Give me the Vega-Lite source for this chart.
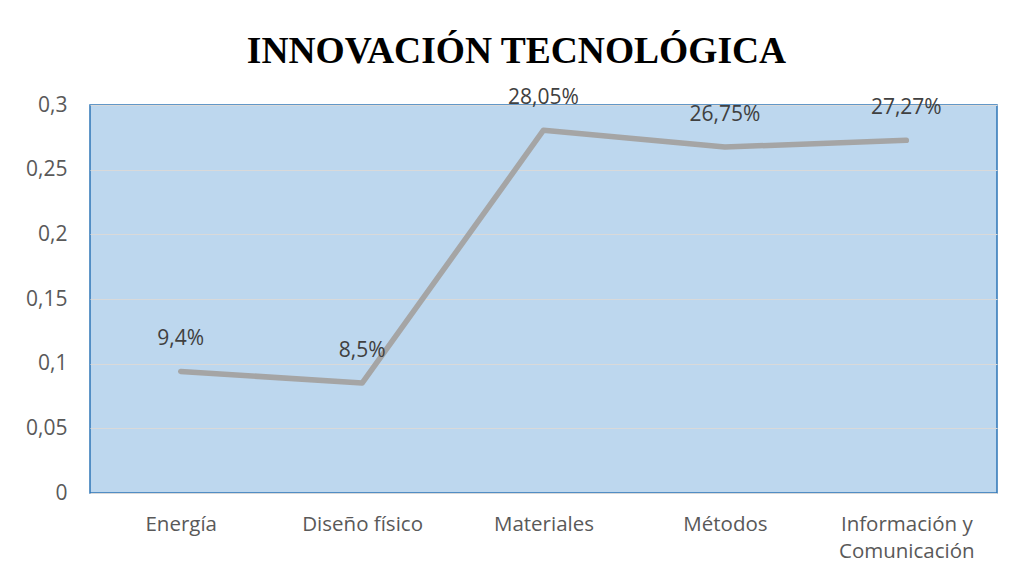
{
  "$schema": "https://vega.github.io/schema/vega-lite/v6.json",
  "width": 907,
  "height": 388,
  "autosize": "none",
  "padding": {"left": 90, "top": 105, "right": 15, "bottom": 86},
  "background": "white",
  "title": {
    "text": "INNOVACIÓN TECNOLÓGICA",
    "font": "Liberation Serif",
    "fontSize": 37.5,
    "fontWeight": "bold",
    "color": "#000000",
    "anchor": "middle",
    "frame": "group",
    "dx": -27,
    "offset": 17
  },
  "data": {
    "values": [
      {"categoria": "Energía", "valor": 0.094, "etiqueta": "9,4%"},
      {"categoria": "Diseño físico", "valor": 0.085, "etiqueta": "8,5%"},
      {"categoria": "Materiales", "valor": 0.2805, "etiqueta": "28,05%"},
      {"categoria": "Métodos", "valor": 0.2675, "etiqueta": "26,75%"},
      {"categoria": "Información y Comunicación", "valor": 0.2727, "etiqueta": "27,27%"}
    ]
  },
  "encoding": {
    "x": {
      "field": "categoria",
      "type": "ordinal",
      "sort": null,
      "scale": {"type": "point", "padding": 0.5},
      "axis": {
        "title": null,
        "labelAngle": 0,
        "ticks": false,
        "domain": false,
        "grid": false,
        "labelFont": "Open Sans",
        "labelFontSize": 20.5,
        "labelColor": "#595959",
        "labelPadding": 21,
        "labelLineHeight": 27,
        "labelExpr": "datum.label == 'Información y Comunicación' ? ['Información y', 'Comunicación'] : datum.label"
      }
    },
    "y": {
      "field": "valor",
      "type": "quantitative",
      "scale": {"domain": [0, 0.3], "nice": false},
      "axis": {
        "title": null,
        "values": [0, 0.05, 0.1, 0.15, 0.2, 0.25, 0.3],
        "ticks": false,
        "domain": false,
        "grid": true,
        "gridColor": "#D9D9D9",
        "gridWidth": 1.2,
        "labelFont": "Open Sans",
        "labelFontSize": 21,
        "labelColor": "#595959",
        "labelPadding": 23,
        "labelExpr": "replace(format(datum.value, '~g'), '.', ',')"
      }
    }
  },
  "layer": [
    {
      "mark": {"type": "line", "color": "#A5A5A5", "strokeWidth": 5.5, "strokeCap": "round", "strokeJoin": "round"}
    },
    {
      "mark": {"type": "text", "dy": -32, "font": "Open Sans", "fontSize": 21, "color": "#404040"},
      "encoding": {"text": {"field": "etiqueta"}}
    }
  ],
  "config": {
    "view": {"fill": "#BDD7EE", "stroke": "#2E75B6", "strokeWidth": 1.5}
  }
}
